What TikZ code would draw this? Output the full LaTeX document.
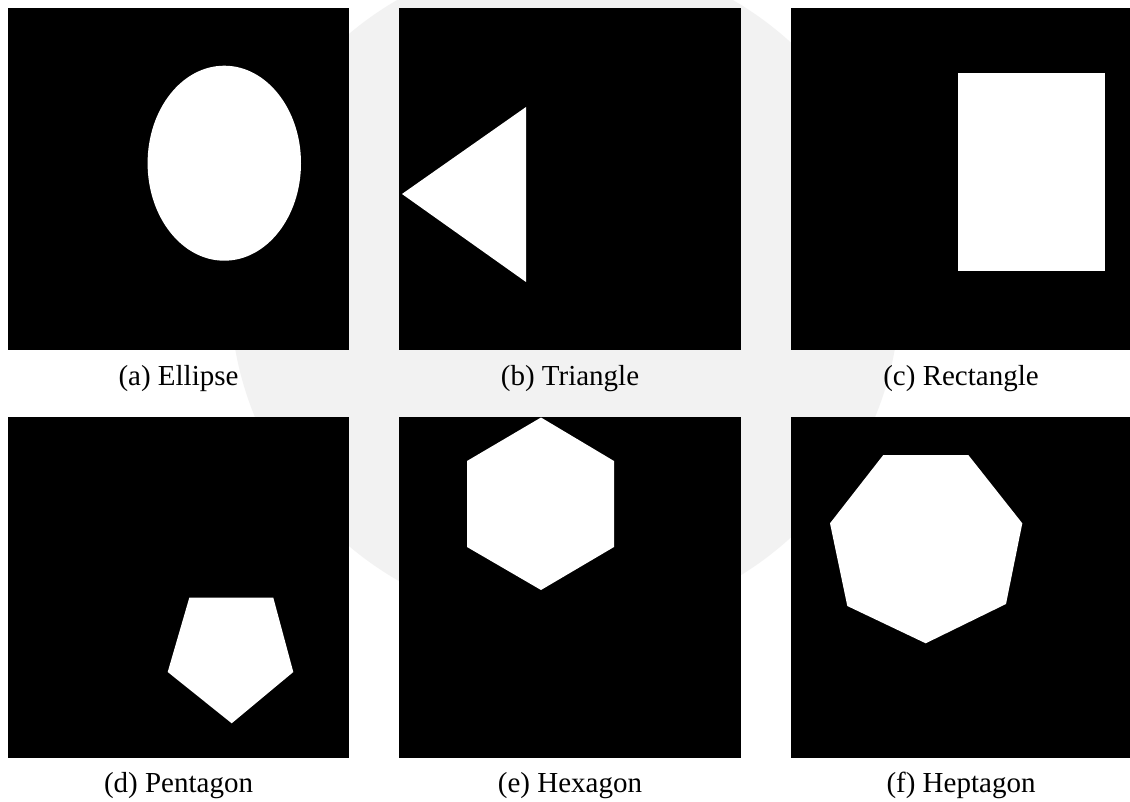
\documentclass[tikz,border=0pt]{standalone}
\usepackage{fontspec}
\setmainfont{Liberation Serif}
\begin{document}
\begin{tikzpicture}[x=1pt,y=-1pt,
  panel/.style={fill=black,draw=none,inner sep=0pt,outer sep=0pt,anchor=north west,minimum width=341pt,minimum height=342pt},
  shapefill/.style={fill=white,draw=none},
  captext/.style={anchor=base,inner sep=0pt,font=\fontsize{29}{34}\selectfont}]
\useasboundingbox (0,0) rectangle (1130,802);
\fill[white] (0,0) rectangle (1130,802);
% faint watermark seal
\fill[black!5] (565,290) circle[radius=335];
% panels
\node[panel] (pa) at (8,8) {};
\node[panel,minimum width=342pt] (pb) at (399,8) {};
\node[panel] (pc) at (791,8) {};
\node[panel,minimum height=341pt] (pd) at (8,417) {};
\node[panel,minimum width=342pt,minimum height=341pt] (pe) at (399,417) {};
\node[panel,minimum height=341pt] (pf) at (791,417) {};
% shapes
\fill[shapefill] (224.3,163.2) ellipse[x radius=76.7,y radius=97.5];
\fill[shapefill] (402,194) -- (526,107) -- (526,282) -- cycle;
\fill[shapefill] (958,73) rectangle (1105,271);
\fill[shapefill] (189.3,597.7) -- (273.3,597.7) -- (293.3,672) -- (231.7,723.3) -- (167.7,672) -- cycle;
\fill[shapefill] (541,417.5) -- (614,461) -- (614,547) -- (541,590) -- (467,547) -- (467,461) -- cycle;
\fill[shapefill] (883.3,455) -- (968.3,455) -- (1022.3,523.3) -- (1006,604) -- (925.7,643.3) -- (847.3,606) -- (830,523.3) -- cycle;
% captions
\node[captext] (ca) at (178.5,385) {(a) Ellipse};
\node[captext] (cb) at (570,385) {(b) Triangle};
\node[captext] (cc) at (961,385) {(c) Rectangle};
\node[captext] (cd) at (178.5,792) {(d) Pentagon};
\node[captext] (ce) at (570,792) {(e) Hexagon};
\node[captext] (cf) at (961,792) {(f) Heptagon};
\end{tikzpicture}
\end{document}
